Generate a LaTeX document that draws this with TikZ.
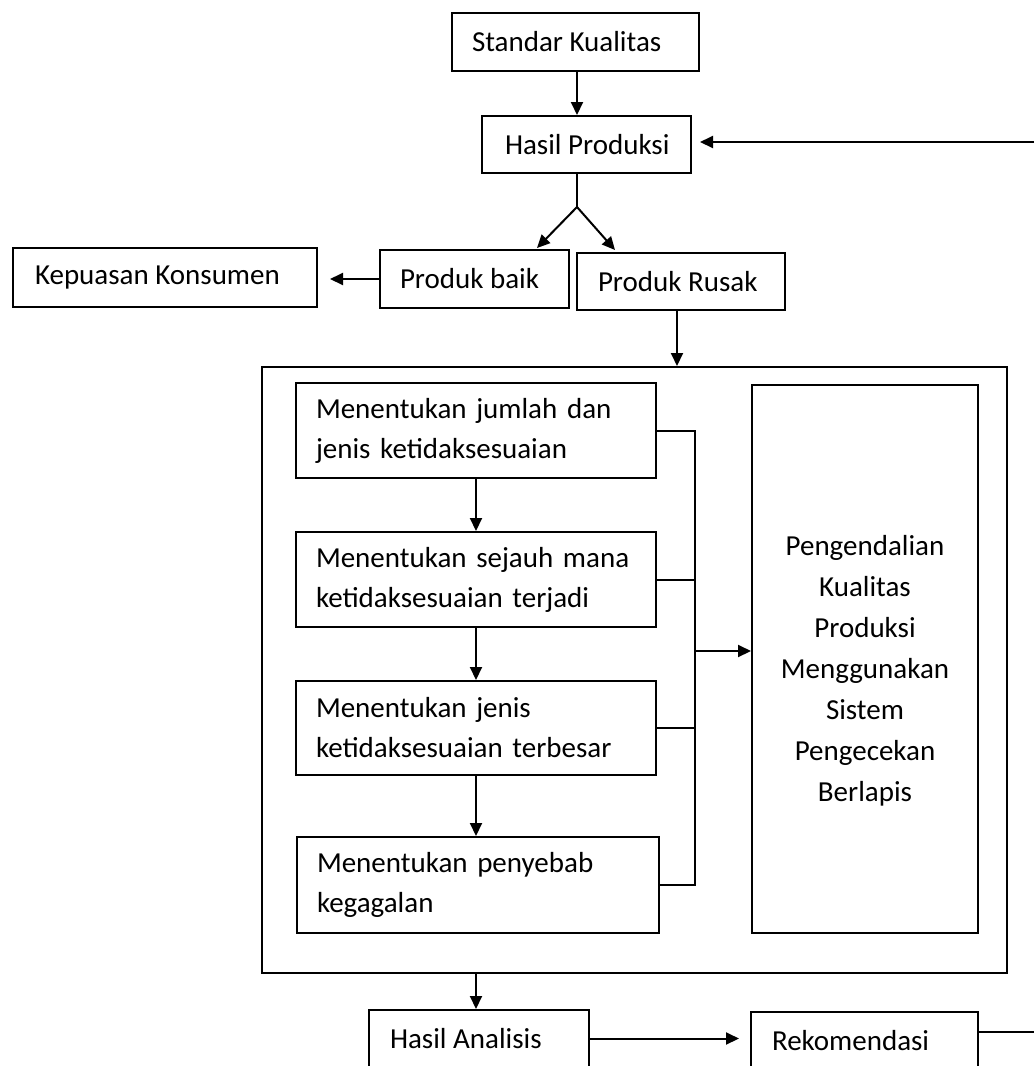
\documentclass[tikz,border=0pt]{standalone}
\usepackage{fontspec}
\setmainfont{Carlito}
\usetikzlibrary{arrows.meta}
\begin{document}
\begin{tikzpicture}[x=1pt,y=-1pt,
  box/.style={draw, line width=2pt, rectangle, inner ysep=0pt, font=\fontsize{29}{40}\selectfont, anchor=center},
  tbox/.style={box, inner xsep=20pt, align=left},
  arr/.style={line width=2pt, -{Triangle[length=13pt,width=12pt]}},
  ln/.style={line width=2pt}]
\useasboundingbox (0,0) rectangle (1034,1066);
\clip (0,0) rectangle (1034,1066);

% top boxes
\node[box, minimum height=58pt, inner xsep=20pt] (std) at (575.5,42) {\makebox[207pt][l]{Standar Kualitas}};
\node[box, minimum height=57pt, inner xsep=23pt] (hp) at (586.5,144.5) {\makebox[163pt][l]{Hasil Produksi}};
\node[box, minimum height=59pt, inner xsep=22pt] (kk) at (165,277.5) {\makebox[260pt][l]{Kepuasan Konsumen}};
\node[box, minimum height=58pt, inner xsep=20pt] (pb) at (474.5,279) {\makebox[149pt][l]{Produk baik}};
\node[box, minimum height=57pt, inner xsep=21pt] (pr) at (681,281.5) {\makebox[166pt][l]{Produk Rusak}};

% big frame
\node[draw, line width=2pt, minimum width=745pt, minimum height=606pt, inner sep=0pt] (big) at (634.5,670) {};

% steps
\node[tbox, text width=320pt, minimum height=95pt] (b1) at (476,430.5) {Menentukan jumlah dan\\jenis ketidaksesuaian};
\node[tbox, text width=320pt, minimum height=95pt] (b2) at (476,579.5) {Menentukan sejauh mana\\ketidaksesuaian terjadi};
\node[tbox, text width=320pt, minimum height=94pt] (b3) at (476,728) {Menentukan jenis\\ketidaksesuaian terbesar};
\node[tbox, text width=322pt, minimum height=96pt] (b4) at (478,885) {Menentukan penyebab\\kegagalan};

% right box
\node[draw, line width=2pt, minimum width=226pt, minimum height=548pt, inner sep=0pt] (rb) at (865,659) {};
\node[align=center, font=\fontsize{29}{41}\selectfont, inner sep=0pt] (rbt) at (865,671) {Pengendalian\\Kualitas\\Produksi\\Menggunakan\\Sistem\\Pengecekan\\Berlapis};

% bottom boxes
\node[box, minimum height=57pt, inner xsep=21pt] (ha) at (479,1038.5) {\makebox[178pt][l]{Hasil Analisis}};
\node[box, minimum height=57pt, inner xsep=21pt] (rk) at (864.5,1040.5) {\makebox[185pt][l]{Rekomendasi}};

% coordinates
\coordinate (split) at (577,207);
\coordinate (pbtip) at (537,248);
\coordinate (prtip) at (615,250);
\coordinate (fbin) at (1034,142);
\coordinate (fbout) at (1034,1032);
\coordinate (bus) at (695,651);

% connectors
\draw[arr] (std.south -| split) -- (hp.north -| split);
\draw[ln] (hp.south -| split) -- (split);
\draw[arr] (split) -- (pbtip);
\draw[arr] (split) -- (prtip);
\draw[arr, shorten >=8pt] (fbin) -- (hp.east |- fbin);
\draw[arr, shorten >=12pt] (pb.west) -- (kk.east |- pb.west);
\draw[arr] ([xshift=-4pt]pr.south) -- ([xshift=-4pt]pr.south |- big.north);

\draw[arr] (b1.south) -- (b2.north);
\draw[arr] (b2.south) -- (b3.north);
\draw[arr] (b3.south) -- (b3.south |- b4.north);

\draw[ln] (b1.east) -| (bus) |- (b4.east);
\draw[ln] (b2.east) -- (b2.east -| bus);
\draw[ln] (b3.east) -- (b3.east -| bus);
\draw[arr] (bus) -- (rb.west |- bus);

\draw[arr] (b1.south |- big.south) -- (b1.south |- ha.north);
\draw[arr, shorten >=11pt] (ha.east) -- (rk.west |- ha.east);
\draw[ln] (rk.east |- fbout) -- (fbout);
\end{tikzpicture}
\end{document}
